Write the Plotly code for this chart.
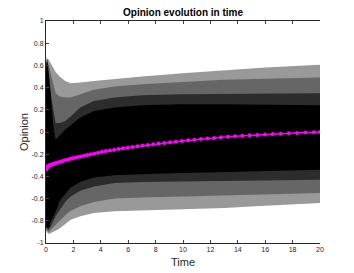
import plotly.graph_objects as go

# ---- envelope times and band boundaries of the black trajectory bundle
t_env = [0, 0.05, 0.2, 0.4, 0.7, 1.0, 1.4, 1.8, 2.5, 3.5, 5, 7, 10, 13, 16, 20]
upper_outer = [0.60, 0.67, 0.65, 0.60, 0.54, 0.50, 0.46, 0.44, 0.445, 0.46, 0.48, 0.50, 0.53, 0.555, 0.58, 0.605]
upper_light = [0.58, 0.64, 0.60, 0.50, 0.35, 0.32, 0.31, 0.31, 0.34, 0.38, 0.41, 0.43, 0.45, 0.47, 0.48, 0.49]
upper_mid = [0.55, 0.60, 0.50, 0.30, 0.08, 0.08, 0.10, 0.14, 0.22, 0.28, 0.31, 0.33, 0.34, 0.345, 0.35, 0.35]
upper_core = [0.50, 0.55, 0.40, 0.15, -0.07, -0.03, 0.02, 0.06, 0.13, 0.19, 0.22, 0.24, 0.25, 0.25, 0.245, 0.24]
lower_core = [-0.80, -0.82, -0.84, -0.80, -0.72, -0.62, -0.56, -0.50, -0.45, -0.41, -0.39, -0.38, -0.37, -0.36, -0.35, -0.34]
lower_mid = [-0.85, -0.87, -0.88, -0.84, -0.76, -0.70, -0.63, -0.58, -0.53, -0.49, -0.46, -0.45, -0.44, -0.44, -0.435, -0.43]
lower_light = [-0.86, -0.89, -0.90, -0.88, -0.84, -0.80, -0.75, -0.71, -0.67, -0.63, -0.60, -0.59, -0.58, -0.57, -0.56, -0.55]
lower_outer = [-0.87, -0.90, -0.92, -0.91, -0.89, -0.87, -0.83, -0.79, -0.76, -0.73, -0.715, -0.705, -0.695, -0.685, -0.665, -0.64]

# left dense blob at early times
blob_t = [0, 0.03, 0.08, 0.15, 0.25, 0.35, 0.45, 0.55, 0.65, 0.45, 0.25, 0.0, 0.0]
blob_v = [0.60, 0.66, 0.66, 0.60, 0.48, 0.33, 0.17, 0.02, -0.08, -0.50, -0.86, -0.86, 0.60]

# ---- mean opinion (magenta)
mean_t = [0, 0.02, 0.05, 0.08, 0.12, 0.17, 0.23, 0.3, 0.38, 0.47, 0.57, 0.68, 0.8, 0.93,
          1.07, 1.22, 1.38, 1.55, 1.73, 1.92, 2.12, 2.33, 2.55, 2.78, 3.02, 3.27, 3.53,
          3.8, 4.08, 4.37, 4.67, 4.98, 5.3, 5.63, 5.97, 6.32, 6.68, 7.05, 7.43, 7.82,
          8.22, 8.63, 9.05, 9.48, 9.92, 10.37, 10.83, 11.3, 11.78, 12.27, 12.77, 13.28,
          13.8, 14.33, 14.87, 15.42, 15.98, 16.55, 17.13, 17.72, 18.32, 18.93, 19.55, 20.0]
mean_v = [-0.335, -0.330, -0.323, -0.317, -0.312, -0.307, -0.302, -0.298, -0.294, -0.290,
          -0.286, -0.282, -0.277, -0.272, -0.267, -0.261, -0.255, -0.249, -0.243, -0.237,
          -0.231, -0.226, -0.220, -0.214, -0.208, -0.201, -0.194, -0.187, -0.179, -0.172,
          -0.166, -0.160, -0.154, -0.147, -0.141, -0.135, -0.129, -0.122, -0.116, -0.110,
          -0.104, -0.098, -0.092, -0.087, -0.081, -0.075, -0.069, -0.063, -0.058, -0.053,
          -0.048, -0.043, -0.038, -0.034, -0.030, -0.026, -0.022, -0.018, -0.015, -0.011,
          -0.008, -0.005, -0.002, 0.0]

x_ticks = [0, 2, 4, 6, 8, 10, 12, 14, 16, 18, 20]
y_ticks = [-1, -0.8, -0.6, -0.4, -0.2, 0, 0.2, 0.4, 0.6, 0.8, 1]
y_tick_text = ["-1", "-0.8", "-0.6", "-0.4", "-0.2", "0", "0.2", "0.4", "0.6", "0.8", "1"]

fig = go.Figure()


def band(upper, lower, color):
    fig.add_trace(go.Scatter(
        x=t_env + t_env[::-1], y=upper + lower[::-1],
        fill="toself", fillcolor=color, mode="lines",
        line=dict(width=0, color=color), hoverinfo="skip", showlegend=False))


band(upper_outer, lower_outer, "#999999")
band(upper_light, lower_light, "#666666")
band(upper_mid, lower_mid, "#2c2c2c")
band(upper_core, lower_core, "#000000")
fig.add_trace(go.Scatter(x=blob_t, y=blob_v, fill="toself", fillcolor="#000000",
                         mode="lines", line=dict(width=0, color="#000000"),
                         hoverinfo="skip", showlegend=False))

fig.add_trace(go.Scatter(x=mean_t, y=mean_v, mode="lines+markers",
                         line=dict(color="#ff00ff", width=1.5),
                         marker=dict(color="#ff00ff", size=4),
                         showlegend=False))

FONT = "Liberation Sans, Arial, sans-serif"
axis_font = dict(family=FONT, size=7, color="#262626")
# the page body adds an 8px offset, so the figure is 8px smaller and margins shifted
fig.update_layout(
    width=346, height=265,
    margin=dict(l=38, r=34, t=13, b=30, autoexpand=False),
    paper_bgcolor="white", plot_bgcolor="white",
    xaxis=dict(range=[0, 20], tickvals=x_ticks, ticks="inside", ticklen=3,
               showline=True, linecolor="#262626", linewidth=1, mirror="ticks",
               showgrid=False, zeroline=False, tickfont=axis_font, automargin=False),
    yaxis=dict(range=[-1, 1], tickvals=y_ticks, ticktext=y_tick_text, ticks="inside", ticklen=3,
               showline=True, linecolor="#262626", linewidth=1, mirror=False,
               showgrid=False, zeroline=False, tickfont=axis_font, automargin=False),
    annotations=[
        dict(text="<b>Opinion evolution in time</b>", xref="paper", yref="paper",
             x=0.5, y=1, yshift=9, xanchor="center", yanchor="middle", showarrow=False,
             font=dict(family=FONT, size=10, color="black")),
        dict(text="Time", xref="paper", yref="paper", x=0.5, y=0, yshift=-19,
             xanchor="center", yanchor="middle", showarrow=False,
             font=dict(family=FONT, size=11, color="#262626")),
        dict(text="Opinion", xref="paper", yref="paper", x=0, y=0.5, xshift=-22,
             xanchor="center", yanchor="middle", textangle=-90, showarrow=False,
             font=dict(family=FONT, size=11, color="#262626")),
    ],
)

fig.write_html("out.html")
